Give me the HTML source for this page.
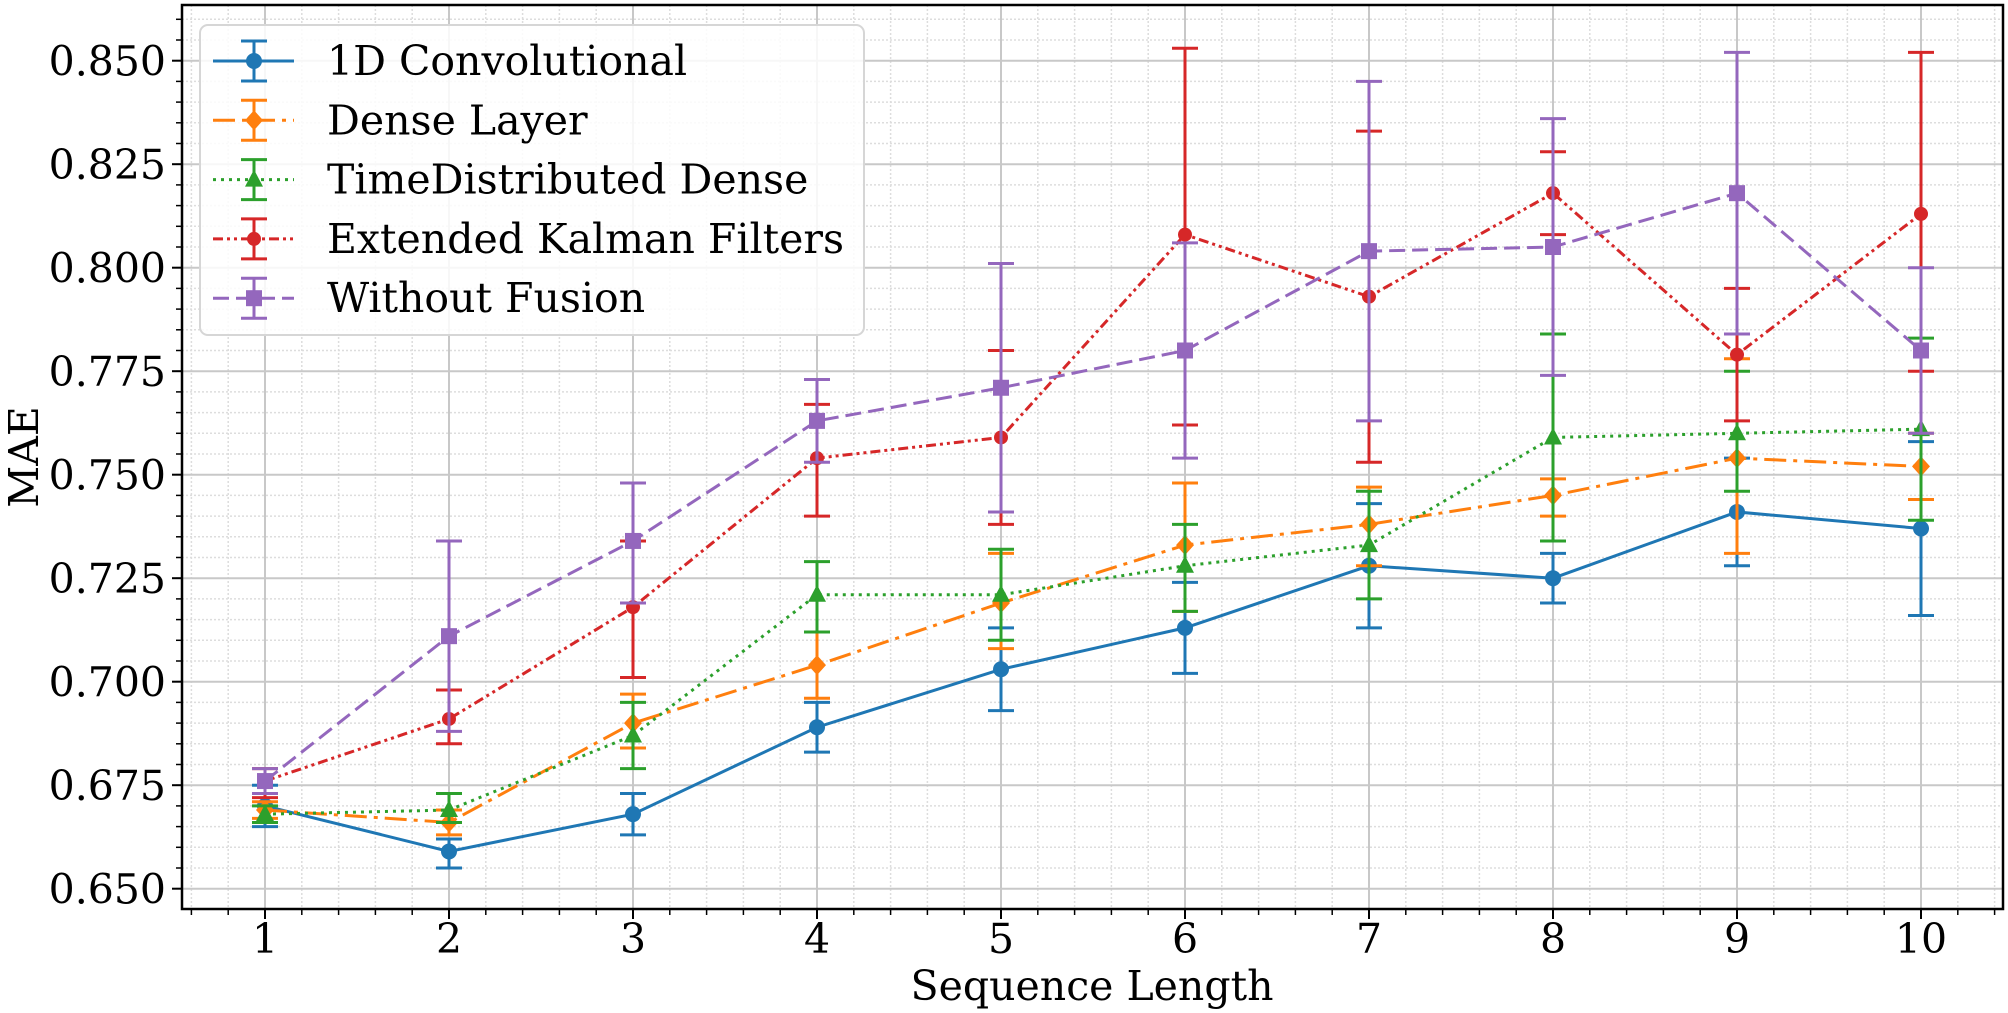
<!DOCTYPE html>
<html><head><meta charset="utf-8"><style>
html,body{margin:0;padding:0;background:#fff;}
svg{display:block;}
text{font-family:"DejaVu Serif","Liberation Serif",serif;fill:#000;}
</style></head><body>
<svg id="s" width="2008" height="1013" xmlns="http://www.w3.org/2000/svg"></svg>
<script>
const S=document.getElementById('s');
const L=182,R=2003,T=5,B=909;
const X=v=>265+(v-1)*184.0;
const Y=v=>888.7-(v-0.65)*4140;
let h='';
for(let v=0.2;v<=10.9;v+=0.2){const x=X(v);if(x<=L||x>=R)continue;
 h+=`<line x1="${x}" y1="${T}" x2="${x}" y2="${B}" stroke="#ddd" stroke-width="1.5" stroke-dasharray="2,2"/>`;
 h+=`<line x1="${x}" y1="${B}" x2="${x}" y2="${B+6}" stroke="#000" stroke-width="1.5"/>`;}
for(let v=0.645;v<=0.866;v+=0.005){const y=Y(v);if(y<=T||y>=B)continue;
 h+=`<line x1="${L}" y1="${y}" x2="${R}" y2="${y}" stroke="#ddd" stroke-width="1.5" stroke-dasharray="2,2"/>`;
 h+=`<line x1="${L-6}" y1="${y}" x2="${L}" y2="${y}" stroke="#000" stroke-width="1.5"/>`;}
for(let i=1;i<=10;i++){const x=X(i);
 h+=`<line x1="${x}" y1="${T}" x2="${x}" y2="${B}" stroke="#c8c8c8" stroke-width="2"/>`;
 h+=`<line x1="${x}" y1="${B}" x2="${x}" y2="${B+10}" stroke="#000" stroke-width="2"/>`;
 h+=`<text x="${x}" y="953" font-size="41" text-anchor="middle">${i}</text>`;}
for(let i=0;i<=8;i++){const v=0.65+i*0.025;const y=Y(v);
 h+=`<line x1="${L}" y1="${y}" x2="${R}" y2="${y}" stroke="#c8c8c8" stroke-width="2"/>`;
 h+=`<line x1="${L-10}" y1="${y}" x2="${L}" y2="${y}" stroke="#000" stroke-width="2"/>`;
 h+=`<text x="166" y="${y+15}" font-size="41" text-anchor="end">${v.toFixed(3)}</text>`;}
const series=[
 {c:'#1f77b4',d:'',m:'o',v:[[.670,.665,.675],[.659,.655,.662],[.668,.663,.673],[.689,.683,.695],[.703,.693,.713],[.713,.702,.724],[.728,.713,.743],[.725,.719,.731],[.741,.728,.754],[.737,.716,.758]]},
 {c:'#ff7f0e',d:'22,7,4,7',m:'D',v:[[.669,.667,.671],[.666,.663,.669],[.690,.684,.697],[.704,.696,.712],[.719,.708,.731],[.733,.717,.748],[.738,.728,.747],[.745,.740,.749],[.754,.731,.778],[.752,.744,.760]]},
 {c:'#2ca02c',d:'3,5',m:'^',v:[[.668,.666,.670],[.669,.666,.673],[.687,.679,.695],[.721,.712,.729],[.721,.710,.732],[.728,.717,.738],[.733,.720,.746],[.759,.734,.784],[.760,.746,.775],[.761,.739,.783]]},
 {c:'#d62728',d:'10,4,3,4,3,4',m:'p',v:[[.676,.672,.679],[.691,.685,.698],[.718,.701,.734],[.754,.740,.767],[.759,.738,.780],[.808,.762,.853],[.793,.753,.833],[.818,.808,.828],[.779,.763,.795],[.813,.775,.852]]},
 {c:'#9467bd',d:'16,7',m:'s',v:[[.676,.673,.679],[.711,.688,.734],[.734,.719,.748],[.763,.753,.773],[.771,.741,.801],[.780,.754,.806],[.804,.763,.845],[.805,.774,.836],[.818,.784,.852],[.780,.760,.800]]}
];
function marker(m,x,y,c,s){s=s||1;
 if(m=='o')return `<circle cx="${x}" cy="${y}" r="${8*s}" fill="${c}"/>`;
 if(m=='D')return `<polygon points="${x},${y-10*s} ${x+9*s},${y} ${x},${y+10*s} ${x-9*s},${y}" fill="${c}"/>`;
 if(m=='^')return `<polygon points="${x},${y-10*s} ${x+9*s},${y+7*s} ${x-9*s},${y+7*s}" fill="${c}"/>`;
 if(m=='p')return `<circle cx="${x}" cy="${y}" r="${7*s}" fill="${c}"/>`;
 return `<rect x="${x-8*s}" y="${y-8*s}" width="${16*s}" height="${16*s}" fill="${c}"/>`;}
for(const s of series){
 s.v.forEach((p,i)=>{const x=X(i+1);
  h+=`<line x1="${x}" y1="${Y(p[1])}" x2="${x}" y2="${Y(p[2])}" stroke="${s.c}" stroke-width="3"/>`;
  h+=`<line x1="${x-13}" y1="${Y(p[1])}" x2="${x+13}" y2="${Y(p[1])}" stroke="${s.c}" stroke-width="3"/>`;
  h+=`<line x1="${x-13}" y1="${Y(p[2])}" x2="${x+13}" y2="${Y(p[2])}" stroke="${s.c}" stroke-width="3"/>`;});
 h+=`<polyline fill="none" stroke="${s.c}" stroke-width="3" ${s.d?`stroke-dasharray="${s.d}"`:''} points="${s.v.map((p,i)=>X(i+1)+','+Y(p[0])).join(' ')}"/>`;
 s.v.forEach((p,i)=>{h+=marker(s.m,X(i+1),Y(p[0]),s.c);});
}
h+=`<rect x="${L}" y="${T}" width="${R-L}" height="${B-T}" fill="none" stroke="#000" stroke-width="2.5"/>`;
h+=`<rect x="200" y="25" width="664" height="310" rx="8" fill="#fff" fill-opacity="0.85" stroke="#d6d6d6" stroke-width="2"/>`;
const names=['1D Convolutional','Dense Layer','TimeDistributed Dense','Extended Kalman Filters','Without Fusion'];
series.forEach((s,i)=>{const y=61+i*59.3;
 h+=`<line x1="213" y1="${y}" x2="294" y2="${y}" stroke="${s.c}" stroke-width="3" ${s.d?`stroke-dasharray="${s.d}"`:''}/>`;
 h+=`<line x1="254" y1="${y-20}" x2="254" y2="${y+20}" stroke="${s.c}" stroke-width="3"/>`;
 h+=`<line x1="241" y1="${y-20}" x2="267" y2="${y-20}" stroke="${s.c}" stroke-width="3"/>`;
 h+=`<line x1="241" y1="${y+20}" x2="267" y2="${y+20}" stroke="${s.c}" stroke-width="3"/>`;
 h+=marker(s.m,254,y,s.c);
 h+=`<text x="327" y="${y+14}" font-size="41">${names[i]}</text>`;});
h+=`<text x="1092" y="1000" font-size="41" text-anchor="middle">Sequence Length</text>`;
h+=`<text transform="translate(38,457) rotate(-90)" font-size="41" text-anchor="middle">MAE</text>`;
S.innerHTML=h;
</script>
</body></html>
